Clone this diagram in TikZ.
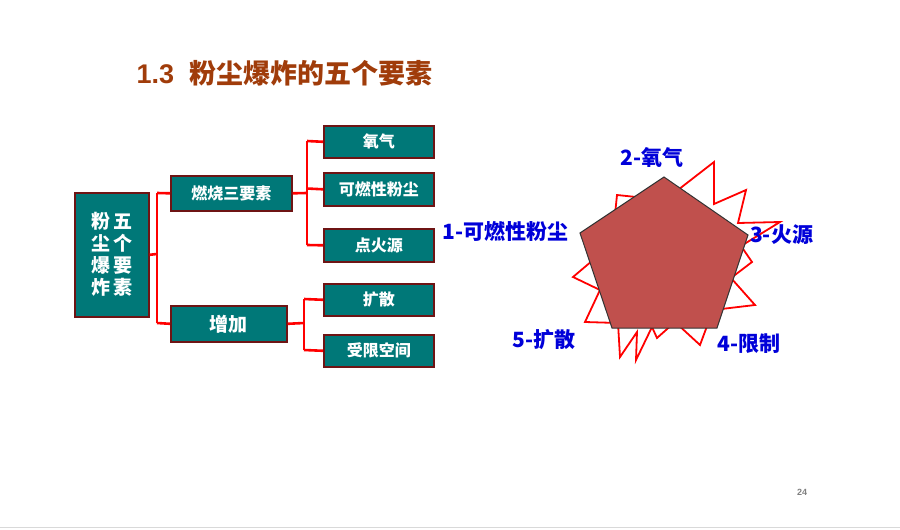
\documentclass[tikz,border=0pt]{standalone}
\usepackage{fontspec}
\setmainfont{Liberation Sans}
\newfontfamily\cjk{Noto Sans CJK SC}
\definecolor{tealbox}{RGB}{0,120,120}
\definecolor{boxline}{RGB}{110,20,20}
\definecolor{penta}{RGB}{192,80,77}
\definecolor{titlec}{RGB}{160,60,10}
\begin{document}
\begin{tikzpicture}[x=1pt,y=-1pt,
  box/.style={draw=boxline,line width=1.6pt,fill=tealbox,text=white,font=\cjk\bfseries\fontsize{16}{19}\selectfont,inner sep=0pt,anchor=north west},
  con/.style={red,line width=2.6pt},
  lab/.style={text=blue!85!black,font=\cjk\bfseries\fontsize{21}{24}\selectfont,inner sep=1pt}]
\useasboundingbox (0,0) rectangle (900,530);
\node[anchor=west,text=titlec,font=\bfseries\fontsize{27}{30}\selectfont] (title) at (133,73) {1.3\ \ {\cjk 粉尘爆炸的五个要素}};
\node[box,minimum width=74pt,minimum height=124pt,align=center,font=\cjk\bfseries\fontsize{19}{22}\selectfont] (m) at (74,192) {粉\,五\\尘\,个\\爆\,要\\炸\,素};
\node[box,minimum width=121pt,minimum height=35pt] (a) at (170,175) {燃烧三要素};
\node[box,minimum width=116pt,minimum height=36pt,font=\cjk\bfseries\fontsize{19}{22}\selectfont] (b) at (170,305) {增加};
\node[box,minimum width=110pt,minimum height=32pt] (r1) at (323,125) {氧气};
\node[box,minimum width=110pt,minimum height=33pt] (r2) at (323,172) {可燃性粉尘};
\node[box,minimum width=110pt,minimum height=33pt] (r3) at (323,228) {点火源};
\node[box,minimum width=110pt,minimum height=32pt] (r4) at (323,283) {扩散};
\node[box,minimum width=110pt,minimum height=32pt] (r5) at (323,334) {受限空间};
\draw[con] (m.east) -- (157,254);
\draw[con] (157,193) -- (157,323);
\draw[con] (157,193) -- (a.west);
\draw[con] (157,323) -- (b.west);
\draw[con] (a.east) -- (307,193);
\draw[con] (307,141) -- (307,245);
\draw[con] (307,141) -- (r1.west);
\draw[con] (307,188.5) -- (r2.west);
\draw[con] (307,245) -- (r3.west);
\draw[con] (b.east) -- (304,323);
\draw[con] (304,299) -- (304,350);
\draw[con] (304,299) -- (r4.west);
\draw[con] (304,350) -- (r5.west);
% starburst
\draw[red,line width=1.8pt,line join=miter,fill=white] (714,162) -- (714,204) -- (746,190) -- (738,223) -- (780,222) -- (741,246) -- (752,262) -- (731,278) -- (755,305) -- (713,310) -- (700,345) -- (675,322) -- (657,338) -- (652,327) -- (636,360) -- (637,332) -- (620,357) -- (618,323) -- (585,322) -- (600,290) -- (573,277) -- (612,244) -- (617,195) -- (665,200) -- cycle;
\draw[black!80,line width=1pt,fill=penta] (664,177) -- (748,235) -- (717,328) -- (612,328) -- (580,233) -- cycle;
\node[lab] (l2) at (652,157) {2-氧气};
\node[lab,anchor=east] (l1) at (570,231) {1-可燃性粉尘};
\node[lab,anchor=west] (l3) at (749,235) {3-火源};
\node[lab] (l5) at (544,340) {5-扩散};
\node[lab] (l4) at (749,344) {4-限制};
\node[text=gray,font=\bfseries\fontsize{9}{10}\selectfont] (pg) at (802,492) {24};
\draw[gray!30,line width=0.8pt] (0,527) coordinate (z1) -- (900,527) coordinate (z2);
\end{tikzpicture}
\end{document}
